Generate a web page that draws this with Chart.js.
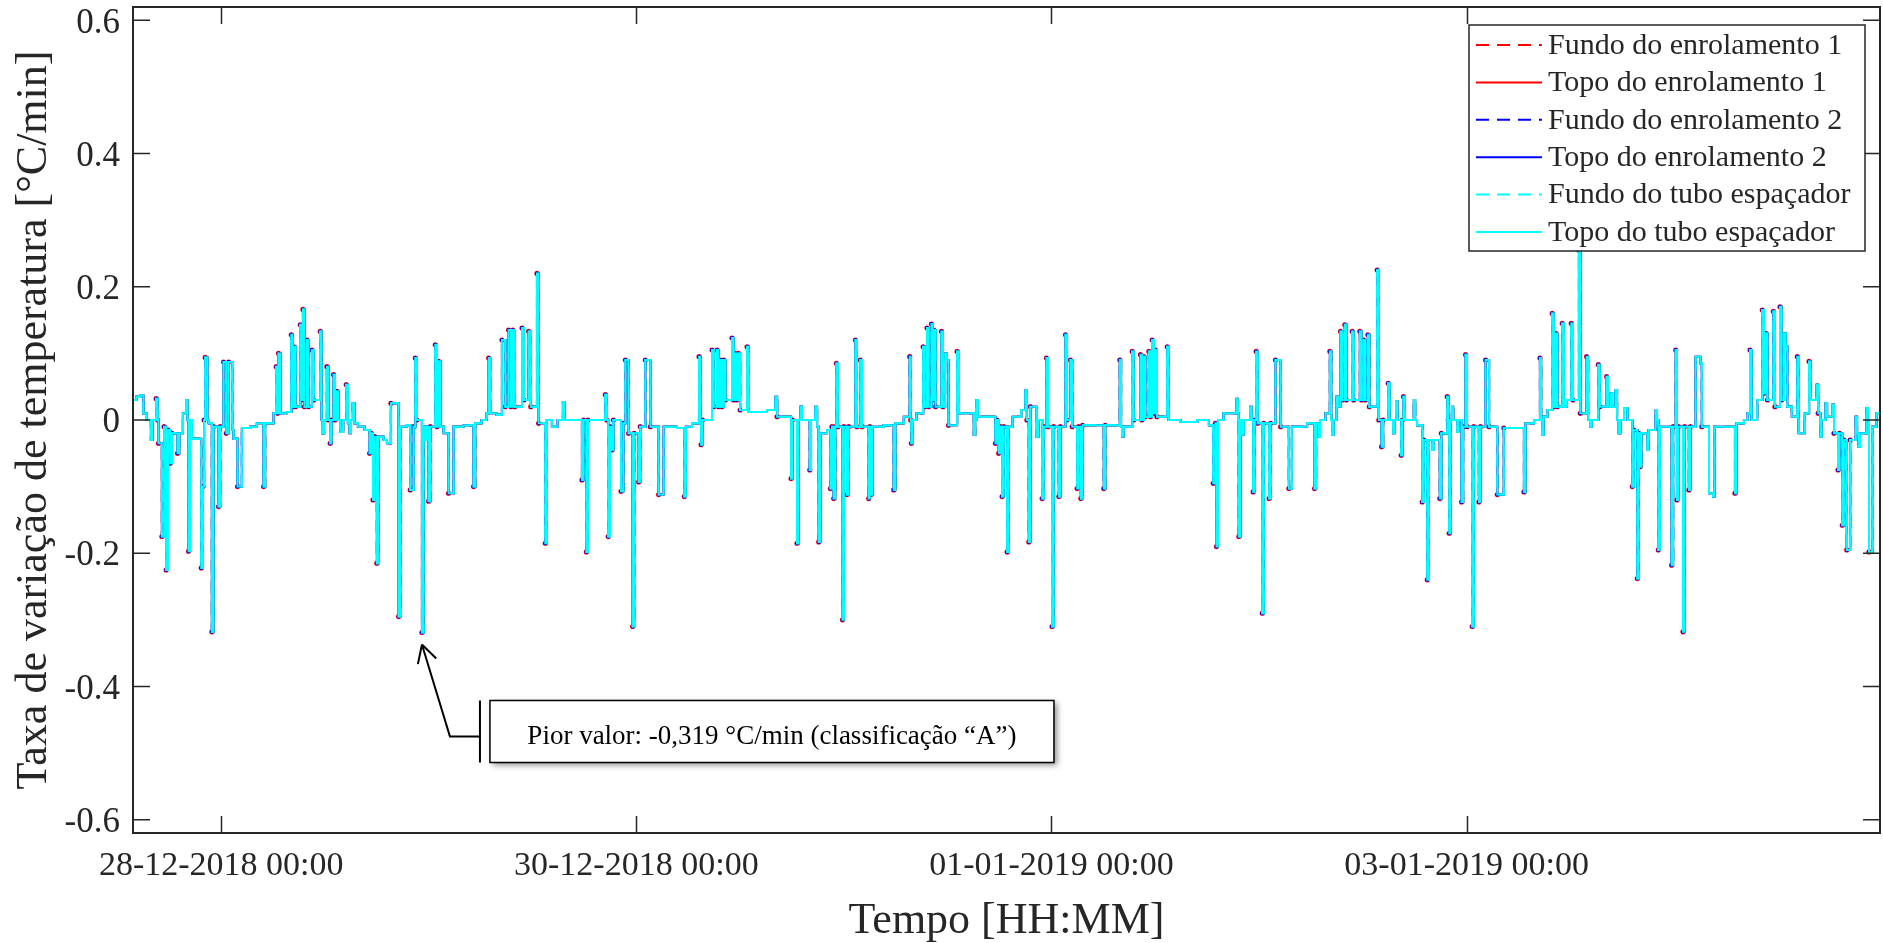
<!DOCTYPE html>
<html lang="pt">
<head>
<meta charset="utf-8">
<title>Taxa de variação de temperatura</title>
<script src="https://cdn.jsdelivr.net/npm/chart.js@4.4.1/dist/chart.umd.min.js"></script>
<style>
  html, body { margin: 0; padding: 0; background: #ffffff; }
  #wrap { width: 1883px; height: 943px; }
</style>
</head>
<body>
<div id="wrap"><canvas id="grafico" width="1883" height="943"></canvas></div>
<script>
// --------------------------------------------------
// Leituras [hora desde 28-12-2018 00:00, taxa em °C/min]
// (as seis sondas praticamente coincidem nesta escala)
// --------------------------------------------------
const dia27 = [[-10.2,0.03],[-9.8,0.035],[-9.37,0.037],[-9.0,0.01],[-8.6,0.0],[-8.13,-0.03],[-7.95,0.0],[-7.52,0.032],[-7.35,0.0],[-7.25,-0.035],[-6.86,-0.175],[-6.6,-0.01],[-6.36,-0.225],[-6.15,-0.015],[-5.9,-0.065],[-5.7,-0.02],[-5.05,-0.05],[-4.85,-0.02],[-4.43,0.01],[-4.05,0.03],[-3.9,0.0],[-3.78,-0.197],[-3.6,0.0],[-3.39,-0.028],[-2.31,-0.222],[-2.12,-0.1],[-1.98,0.0],[-1.85,0.094],[-1.6,0.0],[-1.45,-0.005],[-1.08,-0.318],[-0.9,-0.01],[-0.31,-0.13],[-0.12,-0.01]];
const dia28 = [[0.27,0.087],[0.58,-0.02],[0.85,0.087],[1.27,-0.015],[1.43,-0.028],[1.89,-0.1],[2.39,-0.012],[3.35,-0.01],[4.12,-0.005],[4.9,-0.1],[5.08,-0.005],[6.05,0.01],[6.36,0.08],[6.5,0.01],[6.63,0.1],[6.85,0.01],[7.59,0.012],[8.1,0.128],[8.25,0.02],[8.4,0.11],[8.6,0.02],[9.14,0.143],[9.3,0.03],[9.45,0.166],[9.62,0.02],[9.91,0.12],[10.1,0.02],[10.49,0.105],[10.7,0.03],[11.45,0.133],[11.6,0.0],[11.68,-0.02],[11.9,0.0],[12.22,0.08],[12.4,0.0],[12.6,-0.035],[12.75,0.0],[12.99,0.068],[13.15,0.0],[13.37,0.043],[13.55,0.0],[13.76,-0.018],[14.1,0.0],[14.46,0.053],[14.65,-0.005],[14.84,-0.02],[15.0,0.0],[15.22,0.025],[15.4,-0.005],[15.8,-0.01],[16.57,-0.015],[17.16,-0.05],[17.35,-0.02],[17.55,-0.12],[17.75,-0.025],[18.0,-0.215],[18.2,-0.025],[18.77,-0.03],[19.16,-0.035],[19.62,0.025],[20.51,-0.295],[20.7,-0.01],[21.47,-0.008],[21.86,-0.105],[22.25,-0.01],[22.44,0.093],[22.62,0.0],[23.21,-0.319],[23.4,-0.01],[23.6,-0.03],[23.8,-0.01],[23.98,-0.122]];
const dia29 = [[24.17,-0.01],[24.75,0.113],[24.95,-0.01],[25.14,0.088],[25.35,-0.01],[25.72,-0.02],[26.29,-0.11],[26.87,-0.01],[28.03,-0.008],[29.18,-0.1],[29.37,-0.005],[30.1,0.0],[30.7,0.01],[30.92,0.093],[31.1,0.01],[31.85,0.008],[32.46,0.12],[32.85,0.02],[33.23,0.135],[33.5,0.02],[33.72,0.135],[33.95,0.02],[34.78,0.138],[35.0,0.03],[35.55,0.133],[35.8,0.02],[36.51,0.22],[36.7,-0.005],[37.47,-0.185],[37.65,0.0],[38.24,-0.01],[38.89,0.0],[39.51,0.027],[39.7,0.0],[41.71,-0.09],[41.9,0.0],[42.22,-0.198],[42.4,0.0],[44.41,0.038],[44.58,0.0],[44.75,-0.175],[44.95,-0.01],[45.18,-0.045],[45.35,0.0],[46.23,-0.107],[46.5,-0.005],[46.73,0.09],[47.11,-0.02],[47.57,-0.31],[47.75,-0.02]];
const dia30 = [[48.27,-0.093],[48.45,-0.01],[49.04,0.09],[49.62,-0.01],[50.58,-0.112],[51.16,-0.01],[52.7,-0.012],[53.55,-0.115],[53.72,-0.01],[54.44,-0.005],[55.25,0.095],[55.4,0.0],[55.49,-0.037],[55.65,0.0],[56.75,0.105],[56.95,0.02],[57.33,0.105],[57.5,0.02],[57.71,0.09],[57.9,0.02],[58.1,0.09],[58.3,0.03],[59.06,0.123],[59.25,0.03],[59.4,0.1],[59.6,0.03],[59.8,0.1],[60.0,0.015],[60.8,0.11],[61.0,0.012],[63.1,0.015],[64.08,0.035],[64.28,0.005],[65.89,-0.088],[66.05,0.0],[66.58,-0.185],[66.75,0.0],[66.98,0.02],[67.15,0.0],[68.05,-0.075],[68.2,0.0],[68.7,0.02],[68.9,-0.01],[69.09,-0.183],[69.28,-0.02],[70.05,-0.015],[70.44,-0.103],[70.62,-0.01],[70.82,-0.118],[71.0,-0.01],[71.13,0.085],[71.3,-0.01],[71.83,-0.3]];
const dia31 = [[72.0,-0.01],[72.36,-0.112],[72.55,-0.01],[73.33,0.12],[73.5,-0.01],[73.9,0.09],[74.1,-0.01],[74.87,-0.118],[75.0,-0.01],[75.14,-0.112],[75.3,-0.01],[76.6,-0.008],[77.76,-0.105],[77.95,-0.005],[78.92,0.005],[79.61,0.095],[79.72,0.0],[79.8,-0.035],[79.95,0.0],[80.4,0.01],[81.16,0.11],[81.35,0.02],[81.61,0.138],[81.8,0.02],[82.12,0.144],[82.25,0.03],[82.38,0.135],[82.6,0.02],[83.28,0.133],[83.45,0.02],[83.7,0.1],[83.9,0.09],[84.1,-0.008],[85.09,0.103],[85.3,0.01],[86.24,0.01],[87.02,-0.022],[87.18,0.0],[87.3,0.03],[87.48,0.005],[88.9,0.005],[89.52,-0.035],[89.7,0.0],[89.9,-0.05],[90.08,-0.01],[90.29,-0.115],[90.48,-0.01],[90.87,-0.198],[91.05,-0.01],[91.5,0.005],[92.5,0.015],[92.99,0.045],[93.15,0.0],[93.38,-0.183],[93.56,0.02],[94.3,-0.025],[94.5,0.0],[94.92,-0.118],[95.1,-0.01],[95.42,0.093],[95.6,-0.01]];
const dia01 = [[96.07,-0.31],[96.25,-0.01],[96.85,-0.115],[97.03,-0.01],[97.62,0.128],[97.8,0.0],[98.2,0.09],[98.4,-0.01],[98.97,-0.103],[99.15,-0.01],[99.4,-0.118],[99.6,-0.008],[102.05,-0.103],[102.22,-0.008],[103.9,0.09],[104.05,-0.01],[104.17,-0.025],[104.35,-0.01],[105.33,0.103],[105.5,0.0],[106.29,0.098],[106.45,0.0],[106.68,0.095],[106.85,0.005],[107.26,0.103],[107.45,0.005],[107.64,0.12],[107.85,0.01],[108.03,0.105],[108.2,0.005],[109.38,0.11],[109.55,0.0],[110.9,-0.003],[112.85,0.0],[114.2,-0.008],[114.7,-0.095],[114.95,-0.005],[115.08,-0.19],[115.25,0.0],[115.9,0.01],[117.4,0.032],[117.55,0.01],[117.66,-0.175],[117.85,0.0],[118.05,-0.022],[118.22,0.0],[118.99,0.02],[119.15,0.0],[119.32,-0.108],[119.5,0.0],[119.67,0.103],[119.85,-0.005]];
const dia02 = [[120.37,-0.29],[120.55,-0.005],[121.17,-0.118],[121.35,-0.005],[121.9,0.09],[122.5,-0.01],[123.45,-0.103],[123.8,-0.01],[125.56,-0.005],[126.42,-0.103],[126.6,-0.005],[126.9,-0.025],[127.05,0.0],[127.67,0.01],[128.19,0.103],[128.35,0.0],[128.45,-0.022],[128.62,0.0],[128.96,0.035],[129.15,0.02],[129.42,0.133],[129.6,0.03],[129.92,0.143],[130.1,0.03],[130.77,0.133],[130.95,0.03],[131.66,0.133],[131.85,0.03],[132.1,0.12],[132.3,0.03],[132.58,0.128],[132.75,0.02],[133.66,0.225],[133.85,0.0],[134.17,-0.04],[134.35,0.0],[134.94,0.055],[135.1,0.0],[135.5,-0.02],[135.67,0.0],[135.85,0.028],[136.0,0.0],[136.44,-0.053],[136.58,0.0],[136.7,0.035],[136.85,0.0],[137.9,0.03],[138.05,0.0],[138.27,-0.008],[138.87,-0.123],[139.05,-0.03],[139.45,-0.24],[139.63,-0.03],[140.02,-0.045],[140.2,-0.03],[140.9,-0.118],[141.08,-0.02],[141.76,0.035],[141.88,0.0],[141.99,-0.17],[142.15,0.0],[142.3,0.02],[142.45,0.0],[142.92,-0.018],[143.08,0.0],[143.42,-0.123],[143.6,-0.01],[143.88,0.098]];
const dia03 = [[144.05,-0.01],[144.65,-0.31],[144.83,-0.01],[145.42,-0.123],[145.6,-0.01],[146.19,0.09],[146.6,-0.01],[147.55,-0.112],[148.3,-0.012],[150.63,-0.108],[150.8,-0.005],[151.8,0.0],[152.48,0.093],[152.62,0.0],[152.74,-0.022],[152.9,0.005],[153.33,0.015],[153.9,0.16],[154.08,0.02],[154.3,0.13],[154.5,0.02],[155.06,0.145],[155.25,0.02],[155.6,0.03],[156.1,0.145],[156.3,0.03],[156.99,0.255],[157.15,0.01],[157.88,0.095],[158.05,0.0],[158.3,-0.01],[158.45,0.0],[159.23,0.083],[159.4,0.02],[160.19,0.065],[160.35,0.02],[160.65,0.04],[160.82,0.02],[161.22,0.045],[161.4,0.0],[161.6,-0.02],[161.78,0.0],[162.2,0.018],[162.6,0.0],[163.16,-0.1],[163.33,-0.015],[163.74,-0.238],[163.9,-0.02],[164.05,-0.07],[164.2,-0.02],[164.9,-0.045],[165.05,-0.015],[165.86,0.015],[166.02,0.0],[166.17,-0.195],[166.35,-0.01],[167.2,-0.01],[167.71,-0.218],[167.88,-0.01]];
const dia04 = [[168.18,0.105],[168.32,-0.12],[168.5,-0.01],[169.02,-0.318],[169.2,-0.01],[169.7,-0.105],[169.88,-0.01],[170.48,0.095],[171.05,0.085],[171.2,-0.01],[172.03,-0.11],[172.5,-0.115],[172.65,-0.01],[174.15,-0.01],[175.03,-0.11],[175.2,-0.005],[176.07,0.0],[176.5,0.01],[176.77,0.105],[176.95,0.0],[177.6,0.03],[178.19,0.165],[178.38,0.04],[178.6,0.13],[178.78,0.03],[179.47,0.163],[179.65,0.02],[180.24,0.17],[180.42,0.03],[180.7,0.13],[180.9,0.11],[181.08,0.02],[181.6,0.005],[182.24,0.095],[182.4,-0.02],[183.1,0.01],[183.6,0.088],[183.78,0.03],[184.48,0.053],[184.65,0.01],[184.9,-0.025],[185.05,0.0],[185.5,0.025],[185.68,0.005],[186.3,0.023],[186.48,-0.02],[186.95,-0.075],[187.12,-0.02],[187.44,-0.158],[187.62,-0.03],[187.96,-0.195],[188.35,-0.03],[188.99,0.005],[189.15,-0.02],[189.3,-0.04],[189.48,-0.02],[190.26,0.018],[190.4,0.0],[190.53,-0.198],[190.9,-0.01],[191.4,0.01],[191.8,-0.1]];

const leituras = [].concat(dia27, dia28, dia29, dia30, dia31, dia01, dia02, dia03, dia04);

const marcasHoras = [0, 48, 96, 144];
const rotulosX = ['28-12-2018 00:00', '30-12-2018 00:00', '01-01-2019 00:00', '03-01-2019 00:00'];
const marcasY = [-0.6, -0.4, -0.2, 0, 0.2, 0.4, 0.6];
const rotulosY = ['-0.6', '-0.4', '-0.2', '0', '0.2', '0.4', '0.6'];

const seriesNomes = ['Fundo do enrolamento 1', 'Topo do enrolamento 1', 'Fundo do enrolamento 2',
                     'Topo do enrolamento 2', 'Fundo do tubo espaçador', 'Topo do tubo espaçador'];
const seriesCores = ['#ff0000', '#ff0000', '#0000ff', '#0000ff', '#00ffff', '#00ffff'];
const seriesTracejado = [true, false, true, false, true, false];

const piorValor = { hora: 23.21, valor: -0.319, texto: 'Pior valor: -0,319 °C/min (classificação “A”)' };

const FONTE = "'Liberation Serif', 'Times New Roman', serif";
const COR_EIXO = '#262626';
const TRACO = [13, 8];

// Ponta de pico: ponto que se afasta dos dois vizinhos
const ehPonta = (ctx) => {
    const d = ctx.dataset.data, i = ctx.dataIndex;
    if (i <= 0 || i >= d.length - 1) return false;
    return Math.abs(d[i].y - d[i - 1].y) > 0.03 && Math.abs(d[i].y - d[i + 1].y) > 0.03;
};

const datasets = seriesNomes.map((nome, i) => {
    const raio = i === 1 ? 2.6 : (i === 3 ? 2.0 : 0);
    return {
        label: nome,
        data: leituras.map(([h, v]) => ({ x: h, y: v })),
        borderColor: seriesCores[i],
        backgroundColor: seriesCores[i],
        borderWidth: 2,
        borderDash: seriesTracejado[i] ? TRACO : [],
        stepped: true,
        fill: false,
        pointRadius: (ctx) => (raio && ehPonta(ctx)) ? raio : 0,
        pointBorderWidth: 0,
        pointBackgroundColor: seriesCores[i],
        order: 5 - i   // cyan por cima
    };
});

// --------------------------------------------------
// Moldura com marcas para dentro (estilo MATLAB)
// --------------------------------------------------
const moldura = {
    id: 'moldura',
    beforeDraw(chart) {
        const ctx = chart.ctx;
        ctx.save();
        ctx.fillStyle = '#ffffff';
        ctx.fillRect(0, 0, chart.width, chart.height);
        ctx.restore();
    },
    afterDatasetsDraw(chart) {
        const { ctx, chartArea: a, scales: { x, y } } = chart;
        ctx.save();
        ctx.strokeStyle = COR_EIXO;
        ctx.lineWidth = 2;
        ctx.strokeRect(a.left, a.top, a.right - a.left, a.bottom - a.top);
        ctx.lineWidth = 1.5;
        ctx.beginPath();
        marcasHoras.forEach(h => {
            const px = Math.round(x.getPixelForValue(h)) + 0.5;
            ctx.moveTo(px, a.bottom); ctx.lineTo(px, a.bottom - 17);
            ctx.moveTo(px, a.top);    ctx.lineTo(px, a.top + 17);
        });
        marcasY.forEach(v => {
            const py = y.getPixelForValue(v);
            ctx.moveTo(a.left, py);  ctx.lineTo(a.left + 17, py);
            ctx.moveTo(a.right, py); ctx.lineTo(a.right - 17, py);
        });
        ctx.stroke();
        ctx.restore();
    }
};

// --------------------------------------------------
// Legenda dentro do gráfico + anotação do pior valor
// --------------------------------------------------
const extras = {
    id: 'extras',
    afterDraw(chart) {
        const { ctx, chartArea: a, scales: { x, y } } = chart;

        // legenda
        const lx = a.right - 411, ly = a.top + 18, lw = 396, lh = 226;
        ctx.save();
        ctx.fillStyle = '#ffffff';
        ctx.fillRect(lx, ly, lw, lh);
        ctx.strokeStyle = COR_EIXO;
        ctx.lineWidth = 1.5;
        ctx.strokeRect(lx, ly, lw, lh);
        ctx.font = '30px ' + FONTE;
        ctx.textBaseline = 'middle';
        ctx.textAlign = 'left';
        seriesNomes.forEach((nome, i) => {
            const yy = ly + 20 + i * 37.4;
            ctx.strokeStyle = seriesCores[i];
            ctx.lineWidth = 2;
            ctx.setLineDash(seriesTracejado[i] ? TRACO : []);
            ctx.beginPath();
            ctx.moveTo(lx + 7, yy);
            ctx.lineTo(lx + 73, yy);
            ctx.stroke();
            ctx.setLineDash([]);
            ctx.fillStyle = COR_EIXO;
            ctx.fillText(nome, lx + 79, yy + 1);
        });
        ctx.restore();

        // anotação
        const tx = x.getPixelForValue(piorValor.hora);
        const ty = y.getPixelForValue(piorValor.valor) + 12;
        ctx.save();
        ctx.strokeStyle = '#000000';
        ctx.lineWidth = 2;
        ctx.beginPath();
        ctx.moveTo(tx + 58, ty + 92);
        ctx.lineTo(tx + 28, ty + 92);
        ctx.lineTo(tx, ty);
        const ang = Math.atan2(92, 28);
        [-0.5, 0.5].forEach(d => {
            ctx.moveTo(tx, ty);
            ctx.lineTo(tx + 20 * Math.cos(ang + d), ty + 20 * Math.sin(ang + d));
        });
        ctx.moveTo(tx + 58, ty + 56);
        ctx.lineTo(tx + 58, ty + 118);
        ctx.stroke();

        const bx = tx + 68, by = ty + 56, bw = 564, bh = 62;
        ctx.save();
        ctx.shadowColor = 'rgba(0,0,0,0.45)';
        ctx.shadowBlur = 6;
        ctx.shadowOffsetX = 3;
        ctx.shadowOffsetY = 3;
        ctx.fillStyle = '#ffffff';
        ctx.fillRect(bx, by, bw, bh);
        ctx.restore();
        ctx.lineWidth = 1.5;
        ctx.strokeRect(bx, by, bw, bh);
        ctx.fillStyle = '#000000';
        ctx.font = '27px ' + FONTE;
        ctx.textAlign = 'center';
        ctx.textBaseline = 'middle';
        ctx.fillText(piorValor.texto, bx + bw / 2, ty + 92);
        ctx.restore();
    }
};

const chart = new Chart(document.getElementById('grafico'), {
    type: 'line',
    data: { datasets },
    options: {
        responsive: false,
        animation: false,
        events: [],
        layout: { padding: { left: 8, right: 3, top: 7, bottom: 0 } },
        scales: {
            x: {
                type: 'linear',
                min: -10.2,
                max: 191.8,
                afterBuildTicks: (s) => { s.ticks = marcasHoras.map(v => ({ value: v })); },
                afterFit: (s) => { s.height = 110; s.paddingLeft = 0; s.paddingRight = 0; },
                grid: { display: false, drawTicks: false },
                border: { display: false },
                ticks: {
                    autoSkip: false,
                    maxRotation: 0,
                    padding: 13,
                    color: COR_EIXO,
                    font: { family: FONTE, size: 34 },
                    callback: (v, i) => rotulosX[i]
                },
                title: {
                    display: true,
                    text: 'Tempo [HH:MM]',
                    color: COR_EIXO,
                    font: { family: FONTE, size: 44 },
                    padding: { top: 0, bottom: -5 }
                }
            },
            y: {
                type: 'linear',
                min: -0.62,
                max: 0.62,
                afterBuildTicks: (s) => { s.ticks = marcasY.map(v => ({ value: v })); },
                afterFit: (s) => { s.width = 125; s.paddingTop = 0; s.paddingBottom = 0; },
                grid: { display: false, drawTicks: false },
                border: { display: false },
                ticks: {
                    padding: 13,
                    labelOffset: 3,
                    color: COR_EIXO,
                    font: { family: FONTE, size: 35 },
                    callback: (v, i) => rotulosY[i]
                },
                title: {
                    display: true,
                    text: 'Taxa de variação de temperatura [°C/min]',
                    color: COR_EIXO,
                    font: { family: FONTE, size: 44 },
                    padding: { top: 0, bottom: 0 }
                }
            }
        },
        plugins: {
            legend: { display: false },
            tooltip: { enabled: false }
        }
    },
    plugins: [moldura, extras]
});
</script>
</body>
</html>
